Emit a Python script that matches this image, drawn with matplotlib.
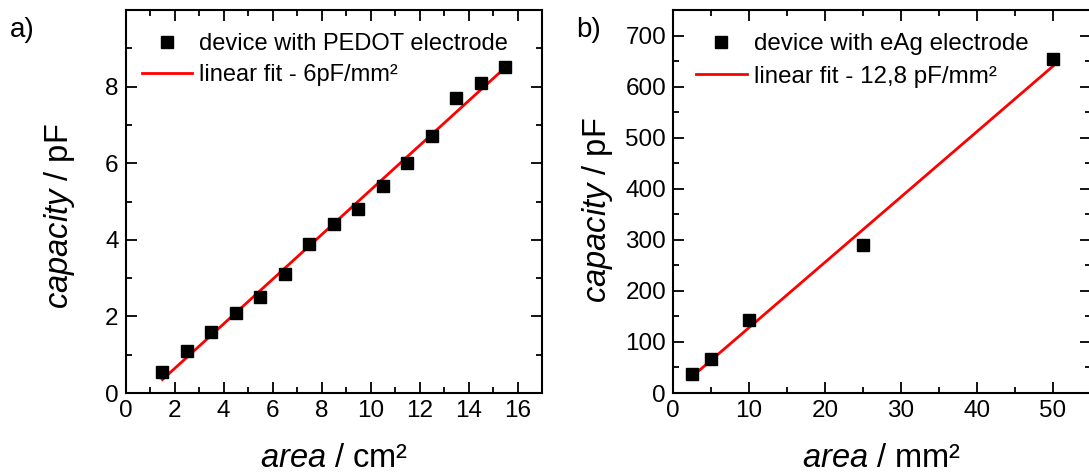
import matplotlib
matplotlib.use('Agg')
import matplotlib.pyplot as plt
from matplotlib.ticker import MultipleLocator

plt.rcParams['font.family'] = ['Liberation Sans', 'DejaVu Sans']
plt.rcParams['mathtext.fontset'] = 'custom'
plt.rcParams['mathtext.it'] = 'Liberation Sans:italic'
plt.rcParams['mathtext.rm'] = 'Liberation Sans'

# Panel a) PEDOT electrode
pedot_area = [1.5, 2.5, 3.5, 4.5, 5.5, 6.5, 7.5, 8.5, 9.5, 10.5, 11.5, 12.5, 13.5, 14.5, 15.5]
pedot_cap = [0.55, 1.1, 1.6, 2.1, 2.5, 3.1, 3.9, 4.4, 4.8, 5.4, 6.0, 6.7, 7.7, 8.1, 8.5]
pedot_fit_x = [1.5, 15.5]
pedot_fit_y = [0.35, 8.5]
pedot_labels = ['device with PEDOT electrode', 'linear fit - 6pF/mm²']

# Panel b) eAg electrode
eag_area = [2.5, 5, 10, 25, 50]
eag_cap = [38, 67, 143, 290, 655]
eag_fit_x = [2.5, 50]
eag_fit_y = [32, 640]
eag_labels = ['device with eAg electrode', 'linear fit - 12,8 pF/mm²']

fig = plt.figure(figsize=(10.89, 4.75), dpi=100)
ax1 = fig.add_axes([0.1154, 0.1726, 0.3823, 0.8063])
ax2 = fig.add_axes([0.618, 0.1726, 0.3838, 0.8063])

def style(ax):
    for s in ax.spines.values():
        s.set_linewidth(1.5)
    ax.tick_params(which='both', direction='in', top=True, right=True,
                   width=1.3, labelsize=17.5, pad=5)
    ax.tick_params(which='major', length=8)
    ax.tick_params(which='minor', length=4)

ax1.plot(pedot_area, pedot_cap, 's', color='black', markersize=9, label=pedot_labels[0], zorder=3)
ax1.plot(pedot_fit_x, pedot_fit_y, '-', color='red', linewidth=2, label=pedot_labels[1], zorder=2)
ax1.set_xlim(0, 17)
ax1.set_ylim(0, 10)
ax1.xaxis.set_major_locator(MultipleLocator(2))
ax1.xaxis.set_minor_locator(MultipleLocator(1))
ax1.set_yticks([0, 2, 4, 6, 8])
ax1.yaxis.set_minor_locator(MultipleLocator(1))
style(ax1)
ax1.set_xlabel(r'$\mathit{area}$ / cm²', fontsize=23.5)
ax1.set_ylabel(r'$\mathit{capacity}$ / pF', fontsize=23.5)
ax1.xaxis.set_label_coords(0.5, -0.13)
ax1.yaxis.set_label_coords(-0.117, 0.462)
ax1.legend(loc='upper left', bbox_to_anchor=(0.04, 0.939), frameon=False, fontsize=17,
           handlelength=2.1, handletextpad=0.3, borderpad=0, borderaxespad=0,
           labelspacing=0.36, numpoints=1)

ax2.plot(eag_area, eag_cap, 's', color='black', markersize=9, label=eag_labels[0], zorder=3)
ax2.plot(eag_fit_x, eag_fit_y, '-', color='red', linewidth=2, label=eag_labels[1], zorder=2)
ax2.set_xlim(0, 55)
ax2.set_ylim(0, 750)
ax2.xaxis.set_major_locator(MultipleLocator(10))
ax2.xaxis.set_minor_locator(MultipleLocator(5))
ax2.yaxis.set_major_locator(MultipleLocator(100))
ax2.yaxis.set_minor_locator(MultipleLocator(50))
style(ax2)
ax2.set_yticks([0, 100, 200, 300, 400, 500, 600, 700])
ax2.set_xlabel(r'$\mathit{area}$ / mm²', fontsize=23.5)
ax2.set_ylabel(r'$\mathit{capacity}$ / pF', fontsize=23.5)
ax2.xaxis.set_label_coords(0.5, -0.13)
ax2.yaxis.set_label_coords(-0.138, 0.478)
ax2.legend(loc='upper left', bbox_to_anchor=(0.055, 0.939), frameon=False, fontsize=17.4,
           handlelength=2.1, handletextpad=0.3, borderpad=0, borderaxespad=0,
           labelspacing=0.43, numpoints=1)

fig.text(0.009, 0.937, 'a)', fontsize=20, va='center', ha='left')
fig.text(0.529, 0.937, 'b)', fontsize=20, va='center', ha='left')

fig.savefig('out.png', dpi=100)
